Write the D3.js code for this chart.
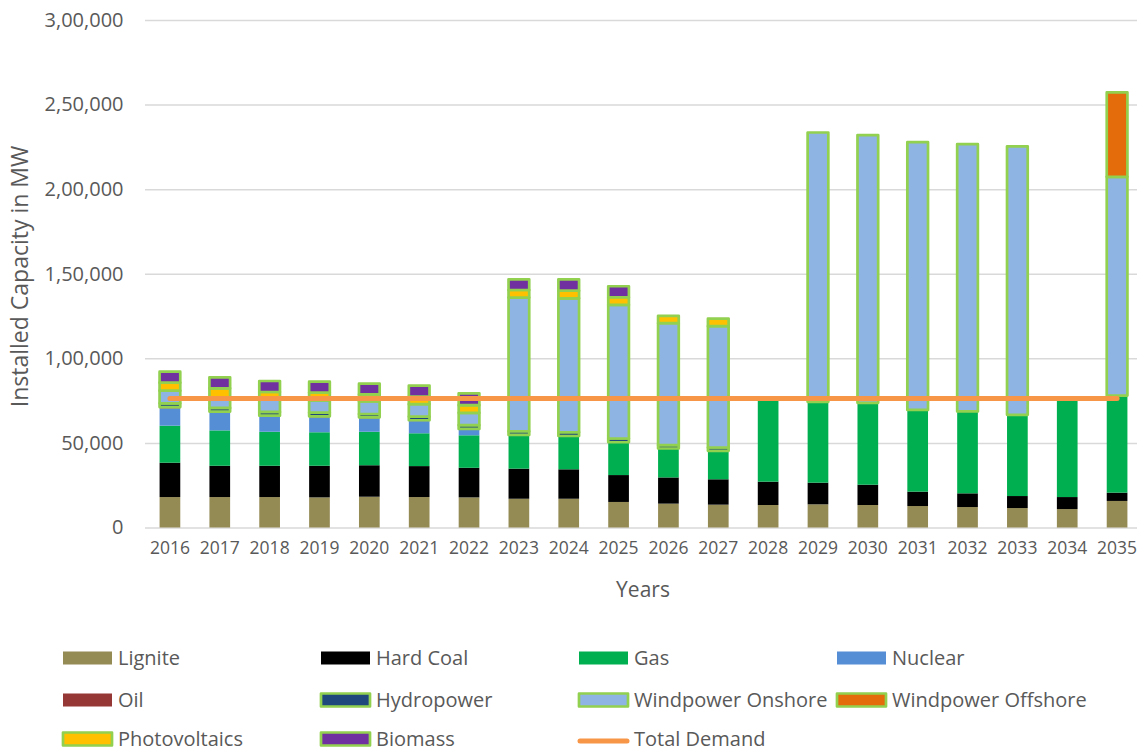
<!DOCTYPE html>
<html>
<head>
<meta charset="utf-8">
<script src="https://cdn.jsdelivr.net/npm/d3@7"></script>
<style>
  html, body { margin: 0; padding: 0; background: #ffffff; }
  svg { display: block; font-family: "Open Sans", "Noto Sans", sans-serif; }
</style>
</head>
<body>
<svg id="chart" width="1137" height="752"></svg>
<script>
// Installed capacity by source (MW), one value per year
const years = ["2016","2017","2018","2019","2020","2021","2022","2023","2024","2025",
               "2026","2027","2028","2029","2030","2031","2032","2033","2034","2035"];
const lignite   = [18000,18000,18000,17800,18200,18000,17800,17000,17000,15100,14100,13500,13300,13700,13300,12700,12100,11500,10900,15700];
const hardCoal  = [20300,18500,18500,18700,18600,18300,17500,17800,17400,15900,15500,15000,13800,12800,12000, 8500, 8100, 7100, 7100, 4900];
const gas       = [21900,20900,20100,19800,19800,19400,19200,19500,19300,19100,16800,16500,47700,47800,48400,48300,48400,48000,57400,57400];
const nuclear   = [10200,10500, 8900, 8800, 7900, 7200, 3500,    0,    0,    0,    0,    0,    0,    0,    0,    0,    0,    0,    0,    0];
const oil       = [  800,  600,  600,  600,  600,  500,  300,  400,  400,  300,  300,  300,    0,    0,    0,    0,    0,    0,    0,    0];
const hydropower= [ 2200, 2200, 2200, 2200, 2000, 2200, 2200, 2200, 2200, 2200, 2000, 2000,    0,    0,    0,    0,    0,    0,    0,    0];
const windOnshore=[ 7500, 6300, 7300, 7300, 7500, 7300, 7300,79000,79200,79000,72100,71700,    0,159200,158300,158300,158000,158700,   0,129300];
const windOffshore=[   0,    0,    0,    0,    0,    0,    0,    0,    0,    0,    0,    0,    0,    0,    0,    0,    0,    0,    0,49900];
const photovoltaics=[4700, 5300, 4500, 4500, 4100, 4500, 4500, 4500, 4500, 4500, 4300, 4500,    0,    0,    0,    0,    0,    0,    0,    0];
const biomass   = [ 6500, 6500, 6500, 6500, 6300, 6500, 7000, 6300, 6700, 6500,    0,    0,    0,    0,    0,    0,    0,    0,    0,    0];
const totalDemand=[76300,76300,76300,76300,76300,76300,76300,76300,76300,76300,76300,76300,76300,76300,76300,76300,76300,76300,76300,76300];

const yTickValues = [0, 50000, 100000, 150000, 200000, 250000, 300000];
const yTickLabels = ["0", "50,000", "1,00,000", "1,50,000", "2,00,000", "2,50,000", "3,00,000"];

const series = [
  { key: "Lignite",            values: lignite,       fill: "#948a54", framed: false },
  { key: "Hard Coal",          values: hardCoal,      fill: "#000000", framed: false },
  { key: "Gas",                values: gas,           fill: "#00b050", framed: false },
  { key: "Nuclear",            values: nuclear,       fill: "#558ed5", framed: false },
  { key: "Oil",                values: oil,           fill: "#953735", framed: false },
  { key: "Hydropower",         values: hydropower,    fill: "#1f497d", framed: true },
  { key: "Windpower Onshore",  values: windOnshore,   fill: "#8eb4e3", framed: true },
  { key: "Windpower Offshore", values: windOffshore,  fill: "#e46c0a", framed: true },
  { key: "Photovoltaics",      values: photovoltaics, fill: "#ffc000", framed: true },
  { key: "Biomass",            values: biomass,       fill: "#7030a0", framed: true }
];
const frameColor = "#92d050";
const demandColor = "#f79646";

const svg = d3.select("#chart");
const plotLeft = 145, plotRight = 1142, plotTop = 20, plotBottom = 527.5;

const x = d3.scaleBand().domain(years).range([plotLeft, plotRight]).paddingInner(0.585).paddingOuter(0.2925);
const y = d3.scaleLinear().domain([0, 300000]).range([plotBottom, plotTop]);

// Gridlines and y tick labels
const yAxis = svg.append("g")
  .attr("transform", `translate(${plotLeft},0)`)
  .call(d3.axisLeft(y).tickValues(yTickValues)
    .tickFormat((d, i) => yTickLabels[i])
    .tickSize(-(plotRight - plotLeft)).tickPadding(21.5));
yAxis.select(".domain").remove();
yAxis.selectAll(".tick line").attr("stroke", "#d9d9d9").attr("stroke-width", 1.5);
yAxis.selectAll(".tick text").attr("fill", "#595959").style("font-size", "20px")
  .style("font-family", "'Open Sans', sans-serif");

// Stacked bars
const table = years.map((yr, i) => {
  const row = { year: yr };
  series.forEach(s => row[s.key] = s.values[i]);
  return row;
});
const stack = d3.stack().keys(series.map(s => s.key));
const layers = stack(table);

layers.forEach((layer, li) => {
  const s = series[li];
  svg.append("g")
    .selectAll("rect")
    .data(layer.filter(d => d[1] - d[0] > 0))
    .join("rect")
    .attr("x", d => x(d.data.year))
    .attr("width", x.bandwidth())
    .attr("y", d => y(d[1]))
    .attr("height", d => y(d[0]) - y(d[1]))
    .attr("fill", s.fill)
    .attr("stroke", s.framed ? frameColor : "none")
    .attr("stroke-width", s.framed ? 2.7 : 0)
    .attr("stroke-linejoin", "round");
});

// Total demand line
const line = d3.line()
  .x((d, i) => x(years[i]) + x.bandwidth() / 2)
  .y(d => y(d));
svg.append("path")
  .datum(totalDemand)
  .attr("d", line)
  .attr("fill", "none")
  .attr("stroke", demandColor)
  .attr("stroke-width", 5)
  .attr("stroke-linecap", "round");

// X axis labels
const xAxis = svg.append("g")
  .attr("transform", `translate(0,${plotBottom})`)
  .call(d3.axisBottom(x).tickSize(0).tickPadding(14));
xAxis.select(".domain").remove();
xAxis.selectAll(".tick text").attr("fill", "#595959").style("font-size", "17.5px")
  .style("font-family", "'Open Sans', sans-serif");

// Axis titles
svg.append("text")
  .attr("x", 643).attr("y", 597)
  .attr("text-anchor", "middle")
  .attr("fill", "#595959")
  .style("font-size", "21px")
  .text("Years");
svg.append("text")
  .attr("transform", "translate(28,276.5) rotate(-90)")
  .attr("text-anchor", "middle")
  .attr("fill", "#595959")
  .style("font-size", "23px")
  .text("Installed Capacity in MW");

// Legend
const legendItems = [
  ...series.map(s => ({ key: s.key, fill: s.fill, framed: s.framed, line: false })),
  { key: "Total Demand", fill: demandColor, framed: false, line: true }
];
const colX = [63, 321, 579, 837];
const rowY = [658, 700, 739];
const legend = svg.append("g");
legendItems.forEach((item, i) => {
  const cx = colX[i % 4], cy = rowY[Math.floor(i / 4)];
  const g = legend.append("g");
  if (item.line) {
    g.append("line")
      .attr("x1", cx + 1).attr("x2", cx + 48)
      .attr("y1", cy + 2).attr("y2", cy + 2)
      .attr("stroke", item.fill).attr("stroke-width", 5)
      .attr("stroke-linecap", "round");
  } else {
    g.append("rect")
      .attr("x", cx).attr("y", cy - 6.5)
      .attr("width", 49).attr("height", 13)
      .attr("fill", item.fill)
      .attr("stroke", item.framed ? frameColor : "none")
      .attr("stroke-width", item.framed ? 2.7 : 0)
      .attr("stroke-linejoin", "round");
  }
  g.append("text")
    .attr("x", cx + 55).attr("y", cy + 7)
    .attr("fill", "#595959")
    .style("font-size", "20px")
    .text(item.key);
});
</script>
</body>
</html>
